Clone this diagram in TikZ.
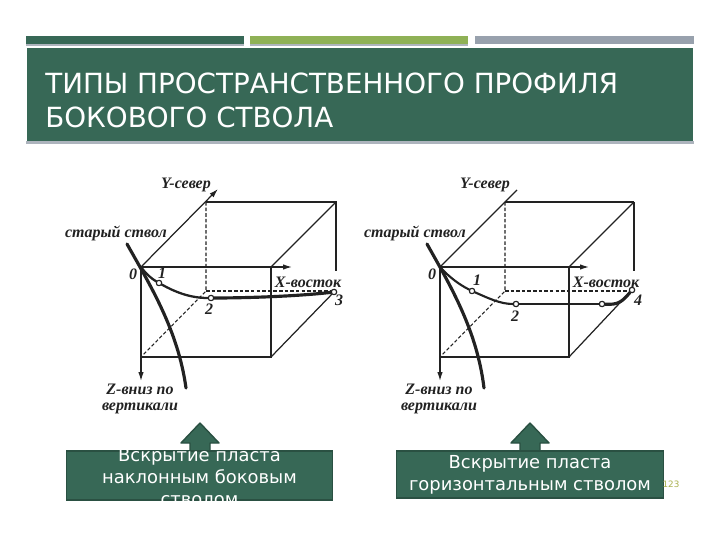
\documentclass[tikz,border=0pt]{standalone}
\usepackage{fontspec}
\setmainfont{DejaVu Sans}
\newfontfamily\figfont{Liberation Serif}
\usetikzlibrary{arrows.meta,positioning,calc}
\definecolor{slidegreen}{HTML}{376856}
\definecolor{edgegreen}{HTML}{2A5042}
\definecolor{limebar}{HTML}{8FB156}
\definecolor{greybar}{HTML}{98A1AD}
\definecolor{inkC}{HTML}{222222}
\definecolor{pageC}{HTML}{A9B04F}
\tikzset{
  bar/.style={rectangle, draw=none, fill=#1, minimum height=9*0.567pt, inner sep=0pt},
  edgeline/.style={line width=0.7pt, draw=inkC},
  hiddenline/.style={line width=0.6pt, draw=inkC, dash pattern=on 2pt off 1.2pt},
  axisline/.style={line width=0.7pt, draw=inkC, -{Latex[length=1.8mm,width=1.1mm]}},
  wellbore/.style={line width=1.8pt, draw=inkC, line cap=round},
  stationpt/.style={circle, draw=inkC, fill=white, line width=0.6pt, minimum size=3pt, inner sep=0pt},
  figlabel/.style={font=\figfont\bfseries\itshape\fontsize{9.1}{8.6}\selectfont, text=inkC, inner sep=0pt, align=center},
  notebox/.style={rectangle, draw=edgegreen, fill=slidegreen, line width=0.8pt, inner sep=0pt},
  notetext/.style={text=white, align=center, inner sep=0pt, font=\fontsize{10.2}{12.6}\selectfont},
  upmark/.style={draw=edgegreen, fill=slidegreen, line width=0.8pt, line join=round},
}
\begin{document}
\begin{tikzpicture}[x=0.02cm, y=-0.02cm]
\useasboundingbox (0,0) rectangle (720,540);
% header
\fill[greybar!80] (26,43) rectangle (244,46);
\fill[greybar!80] (250,43) rectangle (468,46);
\node[bar=slidegreen, minimum width=218*0.567pt] (barA) at (135,40) {};
\node[bar=limebar, minimum width=218*0.567pt] (barB) at (359,40) {};
\node[bar=greybar, minimum width=219*0.567pt] (barC) at (584.5,40) {};
\fill[greybar!80] (26,141) rectangle (694,144);
\node[rectangle, fill=slidegreen, minimum width=668*0.567pt, minimum height=94*0.567pt, inner sep=0pt] (band) at (360,94.5) {};
\node[anchor=west, text=white, align=left, inner sep=0pt, font=\fontsize{15.8}{19.4}\selectfont] (title) at (45,100) {ТИПЫ ПРОСТРАНСТВЕННОГО ПРОФИЛЯ\\БОКОВОГО СТВОЛА};
% left cube
\coordinate (a0) at (141,267);
\coordinate (aFR) at (271,267);
\coordinate (aFB) at (141,357);
\coordinate (aBR) at (271,357);
\coordinate (aTL) at (206,202);
\coordinate (aTR) at (336,202);
\coordinate (aIN) at (206,291);
\coordinate (aRE) at (336,271);
\coordinate (aXE) at (292,267);
\coordinate (aYE) at (218,189);
\coordinate (aZE) at (141,381);
\draw[axisline] (a0) -- (aXE);
\draw[axisline] (a0) -- (aYE);
\draw[axisline] (a0) -- (aZE);
\draw[edgeline] (aFR) -- (aBR) -- (aFB);
\draw[edgeline] (aTL) -- (aTR) -- (aRE);
\draw[edgeline] (aFR) -- (aTR);
\draw[hiddenline] (aTL) -- (aIN) -- (aFB);
\draw[hiddenline] (aIN) -- (334,291);
\node[stationpt] (a1) at (159,283) {};
\node[stationpt] (a2) at (211,298) {};
\node[stationpt] (a3) at (334,292) {};
\draw[edgeline] (aBR) -- (a3);
\draw[wellbore] (127,244) .. controls (150,285) and (178,330) .. (186,388);
\draw[wellbore, line width=1.3pt] (a0) .. controls (146,274) and (152,279) .. (a1);
\draw[wellbore, line width=1.3pt] (a1) .. controls (175,292) and (190,298) .. (a2);
\draw[wellbore] (a2) .. controls (250,298) and (300,296) .. (a3);
\node[stationpt] at (a1) {};
\node[stationpt] at (a2) {};
\node[stationpt] at (a3) {};
\node[figlabel] (aY) at (186,185) {Y-север};
\node[figlabel] (aOld) at (116,233) {старый ствол};
\node[figlabel] (aL0) at (133,274) {0};
\node[figlabel] (aL1) at (162,273) {1};
\node[figlabel] (aL2) at (209,309) {2};
\node[figlabel] (aL3) at (339,300) {3};
\node[figlabel] (aX) at (308,282) {X-восток};
\node[figlabel] (aZ) at (140,399) {Z-вниз по\\вертикали};
% right cube
\coordinate (b0) at (440,267);
\coordinate (bFR) at (569,267);
\coordinate (bFB) at (440,357);
\coordinate (bBR) at (569,357);
\coordinate (bTL) at (505,202);
\coordinate (bTR) at (634,202);
\coordinate (bIN) at (505,291);
\coordinate (bRE) at (634,271);
\coordinate (bXE) at (589,267);
\coordinate (bYE) at (517,190);
\coordinate (bZE) at (440,381);
\draw[axisline] (b0) -- (bXE);
\draw[edgeline] (b0) -- (bYE);
\draw[axisline] (b0) -- (bZE);
\draw[edgeline] (bFR) -- (bBR) -- (bFB);
\draw[edgeline] (bTL) -- (bTR);
\draw[edgeline, line width=1pt] (bTR) -- (bRE);
\draw[edgeline] (bFR) -- (bTR);
\draw[hiddenline] (bTL) -- (bIN) -- (bFB);
\draw[hiddenline] (bIN) -- (632,291);
\node[stationpt] (b1) at (472,291) {};
\node[stationpt] (b2) at (516,304) {};
\node[stationpt] (b3) at (602,304) {};
\node[stationpt] (b4) at (632,290) {};
\draw[edgeline] (bBR) -- (b4);
\draw[wellbore] (427,244) .. controls (450,285) and (477,330) .. (484,388);
\draw[wellbore, line width=1.2pt] (b0) .. controls (450,278) and (460,285) .. (b1);
\draw[wellbore, line width=1.2pt] (b1) .. controls (488,298) and (500,304) .. (b2);
\draw[wellbore, line width=1.4pt] (b2) -- (b3);
\draw[wellbore] (b3) .. controls (618,305) and (622,302) .. (b4);
\node[stationpt] at (b1) {};
\node[stationpt] at (b2) {};
\node[stationpt] at (b3) {};
\node[stationpt] at (b4) {};
\node[figlabel] (bY) at (485,185) {Y-север};
\node[figlabel] (bOld) at (415,233) {старый ствол};
\node[figlabel] (bL0) at (432,274) {0};
\node[figlabel] (bL1) at (477,280) {1};
\node[figlabel] (bL2) at (515,316) {2};
\node[figlabel] (bL4) at (638,300) {4};
\node[figlabel] (bX) at (606,282) {X-восток};
\node[figlabel] (bZ) at (439,399) {Z-вниз по\\вертикали};
% arrows and notes
\draw[upmark] (200,423) -- (219,443) -- (210,443) -- (210,452) -- (190,452) -- (190,443) -- (181,443) -- cycle;
\draw[upmark] (530,423) -- (549,443) -- (540,443) -- (540,452) -- (520,452) -- (520,443) -- (511,443) -- cycle;
\node[notebox, minimum width=267*0.567pt, minimum height=49*0.567pt] (noteA) at (199.5,475.5) {};
\node[notetext] (noteAtext) at (199.5,477) {Вскрытие пласта\\наклонным боковым\\стволом};
\node[notebox, minimum width=268*0.567pt, minimum height=47*0.567pt] (noteB) at (530,474.5) {};
\node[notetext] (noteBtext) at (530,474.5) {Вскрытие пласта\\горизонтальным стволом};
\node[text=pageC, inner sep=0pt, font=\fontsize{5}{6}\selectfont] (pageno) at (671,484) {123};
\end{tikzpicture}
\end{document}
